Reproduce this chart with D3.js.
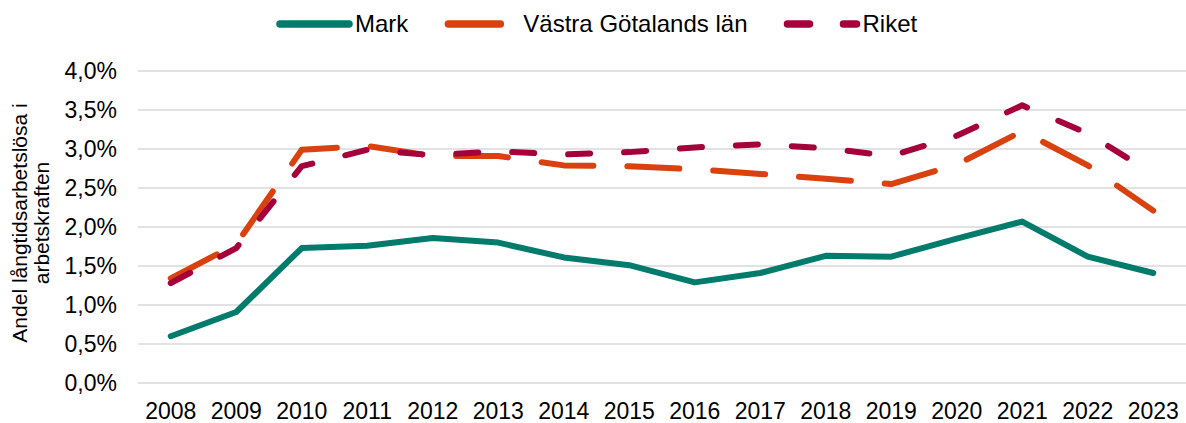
<!DOCTYPE html>
<html>
<head>
<meta charset="utf-8">
<script src="https://cdn.jsdelivr.net/npm/d3@7/dist/d3.min.js"></script>
<style>
  html, body { margin: 0; padding: 0; background: #fff; }
  svg { display: block; font-family: "Liberation Sans", Arial, sans-serif; }
</style>
</head>
<body>
<svg id="chart" width="1186" height="423"></svg>
<script>
const years = ["2008","2009","2010","2011","2012","2013","2014","2015","2016","2017","2018","2019","2020","2021","2022","2023"];
const seriesNames = ["Mark", "Västra Götalands län", "Riket"];
const markValues = [0.0060, 0.0091, 0.0173, 0.0176, 0.0186, 0.0180, 0.0161, 0.0151, 0.0129, 0.0141, 0.0163, 0.0162, 0.0185, 0.0207, 0.0162, 0.0141];
const vgValues   = [0.0134, 0.0178, 0.0299, 0.0304, 0.0291, 0.0291, 0.0279, 0.0278, 0.0274, 0.0268, 0.0262, 0.0255, 0.0280, 0.0323, 0.0279, 0.0221];
const riketValues = [0.0128, 0.0173, 0.0278, 0.0299, 0.0292, 0.0297, 0.0293, 0.0296, 0.0302, 0.0306, 0.0301, 0.0291, 0.0317, 0.0356, 0.0320, 0.0268];
const yTicks = [0, 0.005, 0.01, 0.015, 0.02, 0.025, 0.03, 0.035, 0.04];
const yTitleLines = ["Andel långtidsarbetslösa i", "arbetskraften"];

const colors = ["#007B6C", "#D9410F", "#A6003A"];
const dashes = [null, "52,34", "22,34"];

const svg = d3.select("#chart");
const plotLeft = 138, plotRight = 1186, plotTop = 71, plotBottom = 383;

const x = d3.scaleBand().domain(years).range([plotLeft, plotRight]);
const y = d3.scaleLinear().domain([0, 0.04]).range([plotBottom, plotTop]);
const cx = d => x(d) + x.bandwidth() / 2;

const locale = d3.formatLocale({decimal: ",", thousands: " ", grouping: [3], currency: ["", " kr"]});
const fmt = locale.format(".1%");

// gridlines
svg.append("g").selectAll("line").data(yTicks).join("line")
  .attr("x1", plotLeft).attr("x2", plotRight)
  .attr("y1", d => y(d)).attr("y2", d => y(d))
  .attr("stroke", "#d9d9d9").attr("stroke-width", 1.3);

// y axis
const yAxis = svg.append("g").attr("transform", `translate(${plotLeft},0)`)
  .call(d3.axisLeft(y).tickValues(yTicks).tickFormat(fmt).tickSize(0).tickPadding(21));
yAxis.select(".domain").remove();
yAxis.selectAll("text").attr("font-size", 23).attr("fill", "#000").attr("font-family", "Liberation Sans, Arial, sans-serif");

// x axis
const xAxis = svg.append("g").attr("transform", `translate(0,${plotBottom})`)
  .call(d3.axisBottom(x).tickSize(0).tickPadding(20));
xAxis.select(".domain").remove();
xAxis.selectAll("text").attr("font-size", 23).attr("fill", "#000").attr("font-family", "Liberation Sans, Arial, sans-serif");

// y title
const yt = svg.append("text")
  .attr("transform", `translate(27,${223}) rotate(-90)`)
  .attr("text-anchor", "middle")
  .attr("font-size", 21).attr("fill", "#000");
yTitleLines.forEach((t, i) => {
  yt.append("tspan").attr("x", 0).attr("dy", i === 0 ? 0 : 22).text(t);
});

// lines
const allValues = [markValues, vgValues, riketValues];
const line = d3.line().x((d, i) => cx(years[i])).y(d => y(d)).curve(d3.curveLinear);
allValues.forEach((vals, k) => {
  svg.append("path")
    .datum(vals)
    .attr("d", line)
    .attr("fill", "none")
    .attr("stroke", colors[k])
    .attr("stroke-width", 6)
    .attr("stroke-linecap", "round")
    .attr("stroke-linejoin", "round")
    .attr("stroke-dasharray", dashes[k]);
});

// legend
const legend = svg.append("g");
let lx = 280;
const ly = 24;
seriesNames.forEach((name, k) => {
  legend.append("line")
    .attr("x1", lx).attr("x2", lx + 69)
    .attr("y1", ly).attr("y2", ly)
    .attr("stroke", colors[k]).attr("stroke-width", 7.5)
    .attr("stroke-linecap", "round")
    .attr("stroke-dasharray", dashes[k]);
  const t = legend.append("text")
    .attr("x", lx + 75).attr("y", ly + 8)
    .attr("font-size", 24).attr("fill", "#000")
    .text(name);
  const w = t.node().getComputedTextLength();
  lx = lx + 75 + w + 40;
});
</script>
</body>
</html>
